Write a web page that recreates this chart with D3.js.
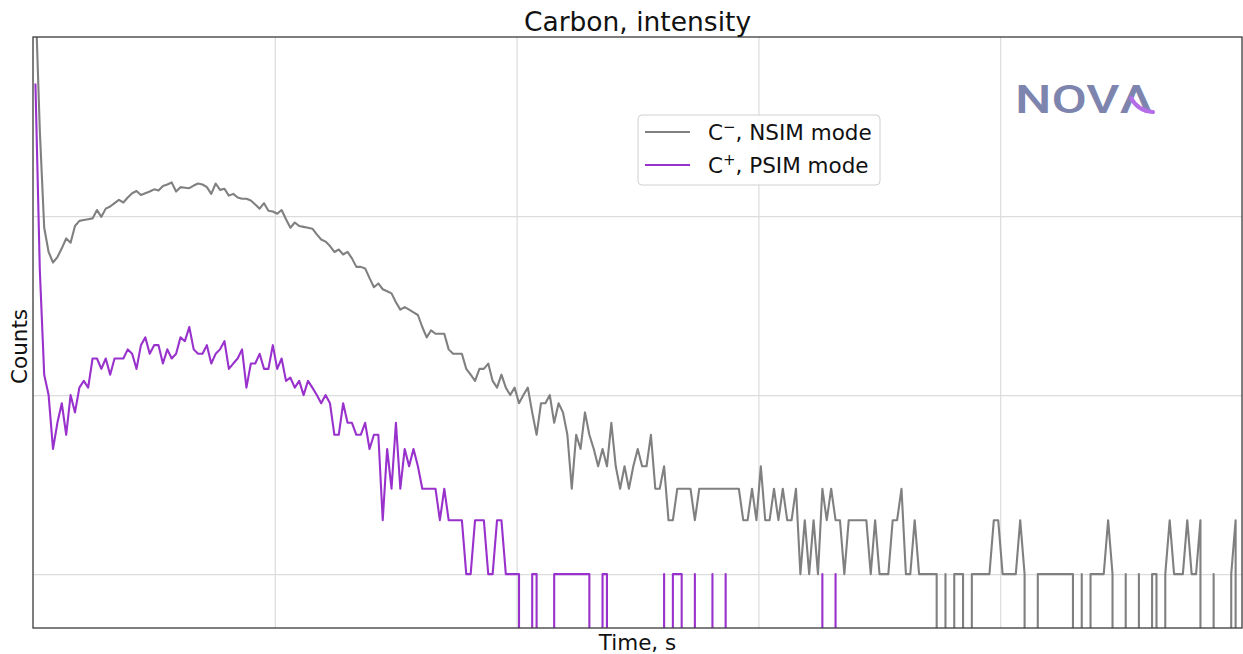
<!DOCTYPE html>
<html><head><meta charset="utf-8">
<script src="https://cdn.jsdelivr.net/npm/d3@7"></script>
<style>body{margin:0;background:#fff}svg{display:block}</style>
</head><body>
<svg id="chart" width="1243" height="654"></svg>
<script>
// ---- data ----
const chartTitle = "Carbon, intensity";
const xLabel = "Time, s";
const yLabel = "Counts";
// legend: base symbol, superscript charge, rest of the label
const seriesLabels = [["C", "\u2212", ", NSIM mode"], ["C", "+", ", PSIM mode"]];
const sampleStart = 0.01;      // s, time of first sample
const sampleStep = 1 / 55;     // s, sampling interval
const xGridTicks = [1, 2, 3, 4];
const yGridTicks = [1, 10, 100];

const nsimCounts = [
  1700, 300, 86, 63, 55, 59, 66, 75, 71, 88,
  94, 95, 96, 97, 108, 99, 110, 113, 118, 123,
  119, 127, 134, 138, 131, 134, 137, 141, 139, 147,
  150, 154, 137, 145, 144, 143, 148, 152, 150, 145,
  133, 152, 140, 142, 130, 133, 127, 125, 125, 122,
  116, 110, 118, 107, 106, 103, 108, 96, 86, 92,
  88, 87, 86, 85, 79, 74, 72, 68, 63, 65,
  61, 63, 58, 52, 52, 51, 45, 40, 42, 39,
  38, 37, 33, 30, 31, 30, 29, 28, 24, 21,
  23, 22, 22, 22, 18, 17, 17, 17, 14, 13,
  12, 14, 14, 15, 12, 11, 13, 11, 10, 11,
  9, 10, 11, 8, 6, 9, 9, 10, 7, 9,
  8, 6, 3, 6, 5, 8, 6, 5, 4, 5,
  4, 7, 4, 3, 4, 3, 4, 5, 4, 4,
  6, 3, 3, 4, 2, 2, 3, 3, 3, 3,
  2, 3, 3, 3, 3, 3, 3, 3, 3, 3,
  3, 2, 2, 3, 2, 4, 2, 2, 3, 2,
  3, 2, 2, 3, 1, 2, 1, 2, 1, 3,
  2, 3, 2, 2, 1, 2, 2, 2, 2, 2,
  1, 2, 1, 1, 1, 2, 2, 3, 1, 1,
  2, 1, 1, 1, 1, 1, 0, 1, 0, 1,
  1, 1, 0, 1, 1, 1, 1, 1, 2, 2,
  1, 1, 1, 1, 2, 1, 0, 0, 1, 1,
  1, 1, 1, 1, 1, 1, 1, 0, 1, 0,
  1, 1, 1, 1, 2, 1, 0, 0, 1, 0,
  0, 1, 0, 0, 1, 1, 0, 1, 2, 1,
  1, 1, 2, 1, 1, 2, 0, 0, 1, 0,
  0, 0, 1, 2, 0
];

const psimCounts = [
  550, 50, 13, 10, 5, 7, 9, 6, 10, 8,
  11, 12, 11, 16, 16, 14, 16, 13, 16, 16,
  16, 18, 17, 14, 19, 21, 17, 19, 19, 15,
  18, 16, 17, 21, 20, 24, 18, 17, 17, 19,
  15, 17, 18, 20, 14, 15, 16, 18, 11, 15,
  15, 17, 14, 14, 19, 14, 16, 12, 12.5, 11,
  12, 10, 12, 11, 10, 9, 10, 9, 6, 6,
  9, 7, 7, 6, 6, 7, 5, 6, 6, 2,
  5, 3, 7, 3, 5, 4, 5, 4, 3, 3,
  3, 3, 2, 3, 2, 2, 2, 2, 1, 1,
  2, 2, 2, 1, 1, 2, 2, 1, 1, 1,
  1, 0, 0, 1, 1, 0, 0, 0, 1, 1,
  1, 1, 1, 1, 1, 1, 1, 0, 0, 1,
  1, 0, 0, 0, 0, 0, 0, 0, 0, 0,
  0, 0, 0, 1, 0, 1, 1, 1, 0, 0,
  1, 0, 0, 0, 1, 0, 0, 1, 0, 0,
  0, 0, 0, 0, 0, 0, 0, 0, 0, 0,
  0, 0, 0, 0, 0, 0, 0, 0, 0, 1,
  0, 0, 1, 0, 0, 0, 0, 0, 0, 0,
  0, 0, 0, 0, 0, 0, 0, 0, 0, 0,
  0, 0, 0, 0, 0, 0, 0, 0, 0, 0,
  0, 0, 0, 0, 0, 0, 0, 0, 0, 0,
  0, 0, 0, 0, 0, 0, 0, 0, 0, 0,
  0, 0, 0, 0, 0, 0, 0, 0, 0, 0,
  0, 0, 0, 0, 0, 0, 0, 0, 0, 0,
  0, 0, 0, 0, 0, 0, 0, 0, 0, 0,
  0, 0, 0, 0, 0, 0, 0, 0, 0, 0,
  0, 0, 0, 0, 0
];

const seriesColors = ["#808080", "#9932cc"];

// ---- layout ----
const plot = {left: 33, right: 1242, top: 37, bottom: 628};
const svg = d3.select("#chart");
const FONT = "DejaVu Sans, Verdana, sans-serif";

const x = d3.scaleLinear().domain([0, 5]).range([plot.left, plot.right]);
const y = d3.scaleLog().domain([0.5, 1000]).range([plot.bottom, plot.top]);
// zero counts on a log axis fall far below the frame (like matplotlib's clip)
const yPos = v => v > 0 ? y(v) : y(1e-300);

svg.append("defs").append("clipPath").attr("id", "plotclip")
  .append("rect").attr("x", plot.left).attr("y", plot.top)
  .attr("width", plot.right - plot.left).attr("height", plot.bottom - plot.top);

// grid
svg.append("g").attr("transform", `translate(0,${plot.bottom})`)
  .call(d3.axisBottom(x).tickValues(xGridTicks).tickFormat("").tickSize(-(plot.bottom - plot.top)))
  .call(g => g.select(".domain").remove())
  .call(g => g.selectAll("line").attr("stroke", "#dcdcdc").attr("stroke-width", 1.2));
svg.append("g").attr("transform", `translate(${plot.left},0)`)
  .call(d3.axisLeft(y).tickValues(yGridTicks).tickFormat("").tickSize(-(plot.right - plot.left)))
  .call(g => g.select(".domain").remove())
  .call(g => g.selectAll("line").attr("stroke", "#dcdcdc").attr("stroke-width", 1.2));

// lines
const line = d3.line()
  .x((d, i) => x(sampleStart + i * sampleStep))
  .y(d => yPos(d));

const gLines = svg.append("g").attr("clip-path", "url(#plotclip)");
[nsimCounts, psimCounts].forEach((arr, k) => {
  gLines.append("path").datum(arr)
    .attr("fill", "none")
    .attr("stroke", seriesColors[k])
    .attr("stroke-width", 2.1)
    .attr("stroke-linejoin", "round")
    .attr("d", line);
});

// frame
svg.append("rect").attr("x", plot.left).attr("y", plot.top)
  .attr("width", plot.right - plot.left).attr("height", plot.bottom - plot.top)
  .attr("fill", "none").attr("stroke", "#3a3a3a").attr("stroke-width", 1.3);

// title & labels
svg.append("text").attr("x", (plot.left + plot.right) / 2).attr("y", 31)
  .attr("text-anchor", "middle").attr("font-family", FONT).attr("font-size", 26.5)
  .attr("fill", "#111").text(chartTitle);
svg.append("text").attr("x", (plot.left + plot.right) / 2).attr("y", 650)
  .attr("text-anchor", "middle").attr("font-family", FONT).attr("font-size", 21.5)
  .attr("fill", "#111").text(xLabel);
svg.append("text").attr("transform", `translate(27,${(plot.top + plot.bottom) / 2 + 14}) rotate(-90)`)
  .attr("text-anchor", "middle").attr("font-family", FONT).attr("font-size", 21.5)
  .attr("fill", "#111").text(yLabel);

// legend
const lg = svg.append("g").attr("transform", "translate(638,115)");
lg.append("rect").attr("width", 242).attr("height", 70).attr("rx", 4)
  .attr("fill", "#fff").attr("fill-opacity", 0.85).attr("stroke", "#d0d0d0");
seriesLabels.forEach((parts, k) => {
  const cy = 17 + k * 33;
  lg.append("line").attr("x1", 7).attr("x2", 52).attr("y1", cy).attr("y2", cy)
    .attr("stroke", seriesColors[k]).attr("stroke-width", 2.1);
  const t = lg.append("text").attr("x", 70).attr("y", cy + 8).attr("font-family", FONT)
    .attr("font-size", 21.5).attr("fill", "#111");
  t.append("tspan").text(parts[0]);
  t.append("tspan").attr("dy", -8).attr("font-size", 15).text(parts[1]);
  t.append("tspan").attr("dy", 8).text(parts[2]);
});

// logo
const logo = svg.append("g");
logo.append("text").attr("x", 1015).attr("y", 113).attr("font-family", "Roboto, DejaVu Sans, sans-serif")
  .attr("font-size", 39).attr("font-weight", 500).attr("textLength", 138)
  .attr("lengthAdjust", "spacingAndGlyphs")
  .attr("fill", "#7d84ad").text("NOV\u039B");
logo.append("path").attr("d", "M1131,98 Q1138,111 1153,112")
  .attr("fill", "none").attr("stroke", "#b46ee8").attr("stroke-width", 4)
  .attr("stroke-linecap", "round");
</script>
</body></html>
